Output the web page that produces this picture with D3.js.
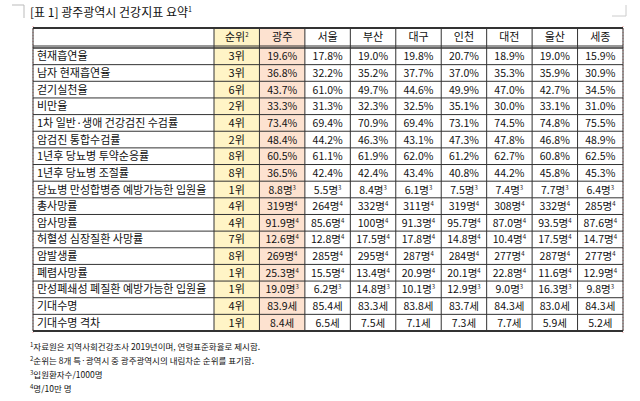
<!DOCTYPE html><html><head><meta charset="utf-8"><script src="https://d3js.org/d3.v7.min.js"></script>
<style>body{margin:0;background:#fff}text{font-family:"Noto Sans CJK KR","Noto Sans",sans-serif;fill:#111}</style></head><body><svg width="640" height="401"></svg>
<script>
const columns=["순위","광주","서울","부산","대구","인천","대전","울산","세종"];
const indicators=["현재흡연율","남자 현재흡연율","걷기실천율","비만율","1차 일반·생애 건강검진 수검률","암검진 통합수검률","1년후 당뇨병 투약순응률","1년후 당뇨병 조절률","당뇨병 만성합병증 예방가능한 입원율","총사망률","암사망률","허혈성 심장질환 사망률","암발생률","폐렴사망률","만성폐쇄성 폐질환 예방가능한 입원율","기대수명","기대수명 격차"];
const ranks=[3,3,6,2,4,2,8,8,1,4,4,7,8,1,1,4,1];
const units=["%","%","%","%","%","%","%","%","명3","명4","명4","명4","명4","명4","명3","세","세"];
const gwangju=["19.6","36.8","43.7","33.3","73.4","48.4","60.5","36.5","8.8","319","91.9","12.6","269","25.3","19.0","83.9","8.4"];
const seoul=["17.8","32.2","61.0","31.3","69.4","44.2","61.1","42.4","5.5","264","85.6","12.8","285","15.5","6.2","85.4","6.5"];
const busan=["19.0","35.2","49.7","32.3","70.9","46.3","61.9","42.4","8.4","332","100","17.5","295","13.4","14.8","83.3","7.5"];
const daegu=["19.8","37.7","44.6","32.5","69.4","43.1","62.0","43.4","6.1","311","91.3","17.8","287","20.9","10.1","83.8","7.1"];
const incheon=["20.7","37.0","49.9","35.1","73.1","47.3","61.2","40.8","7.5","319","95.7","14.8","284","20.1","12.9","83.7","7.3"];
const daejeon=["18.9","35.3","47.0","30.0","74.5","47.8","62.7","44.2","7.4","308","87.0","10.4","277","22.8","9.0","84.3","7.7"];
const ulsan=["19.0","35.9","42.7","33.1","74.8","46.8","60.8","45.8","7.7","332","93.5","17.5","287","11.6","16.3","83.0","5.9"];
const sejong=["15.9","30.9","34.5","31.0","75.5","48.9","62.5","45.3","6.4","285","87.6","14.7","277","12.9","9.8","84.3","5.2"];
const footnotes=[["1","자료원은 지역사회건강조사 2019년이며, 연령표준화율로 제시함."],["2","순위는 8개 특·광역시 중 광주광역시의 내림차순 순위를 표기함."],["3","입원환자수/1000명"],["4","명/10만 명"]];
const cityVals=[gwangju,seoul,busan,daegu,incheon,daejeon,ulsan,sejong];

const svg=d3.select("svg");
const L=33,R=623,labelW=181,T0=28,headH=18,bodyTop=48,bodyBot=331;
const x=d3.scaleBand().domain(columns).range([L+labelW,R]);
const y=d3.scaleBand().domain(indicators).range([bodyTop,bodyBot]);
svg.append("path").attr("d","M12 5H24V18").attr("stroke","#bbb").attr("fill","none");
svg.append("path").attr("d","M626 5V16H612").attr("stroke","#ccc").attr("fill","none");
[L,R].forEach(v=>svg.append("line").attr("x1",v).attr("x2",v).attr("y1",26).attr("y2",334).attr("stroke","#f3a0a0").attr("stroke-dasharray","1,2"));
const t=svg.append("text").attr("x",30).attr("y",17).attr("font-size",12).text("[표 1] 광주광역시 건강지표 요약");
t.append("tspan").attr("font-size",7).attr("dy",-5).text("1");
svg.append("rect").attr("x",x("순위")).attr("y",T0).attr("width",x.bandwidth()).attr("height",bodyBot-T0).attr("fill","#fff4c6");
svg.append("rect").attr("x",x("광주")).attr("y",T0).attr("width",x.bandwidth()).attr("height",bodyBot-T0).attr("fill","#fde2d0");
const g=svg.append("g").attr("stroke","#333").attr("stroke-width",1);
[L,...columns.map(c=>x(c)),R].forEach(v=>g.append("line").attr("x1",v).attr("x2",v).attr("y1",T0).attr("y2",bodyBot));
g.append("line").attr("x1",L).attr("x2",R).attr("y1",T0).attr("y2",T0).attr("stroke-width",2);
g.append("line").attr("x1",L).attr("x2",R).attr("y1",T0+headH).attr("y2",T0+headH);
indicators.forEach(d=>g.append("line").attr("x1",L).attr("x2",R).attr("y1",y(d)).attr("y2",y(d)).attr("stroke-width",d===indicators[0]?1.5:1));
g.append("line").attr("x1",L).attr("x2",R).attr("y1",bodyBot).attr("y2",bodyBot).attr("stroke-width",2);
columns.forEach(c=>{const tx=svg.append("text").attr("x",x(c)+x.bandwidth()/2).attr("y",T0+13).attr("text-anchor","middle").attr("font-size",11).text(c);
 if(c==="순위")tx.append("tspan").attr("font-size",6).attr("dy",-4).text("2");});
indicators.forEach((d,i)=>{
 const cy=y(d)+y.bandwidth()/2+4;
 svg.append("text").attr("x",L+4).attr("y",cy).attr("font-size",11).text(d);
 svg.append("text").attr("x",x("순위")+x.bandwidth()/2).attr("y",cy).attr("text-anchor","middle").attr("font-size",11).text(ranks[i]+"위");
 cityVals.forEach((arr,j)=>{
  const c=columns[j+1];const u=units[i];
  const tx=svg.append("text").attr("x",x(c)+x.bandwidth()/2).attr("y",cy).attr("text-anchor","middle").attr("font-size",10.5);
  if(u.startsWith("명")){tx.append("tspan").text(arr[i]+"명");tx.append("tspan").attr("font-size",6).attr("dy",-4).text(u.slice(1));}
  else tx.text(arr[i]+u);
 });
});
footnotes.forEach((f,i)=>{const tx=svg.append("text").attr("x",30).attr("y",350+i*14).attr("font-size",8.5);
 tx.append("tspan").attr("font-size",6).attr("dy",-3).text(f[0]);tx.append("tspan").attr("dy",3).text(f[1]);});
</script></body></html>
